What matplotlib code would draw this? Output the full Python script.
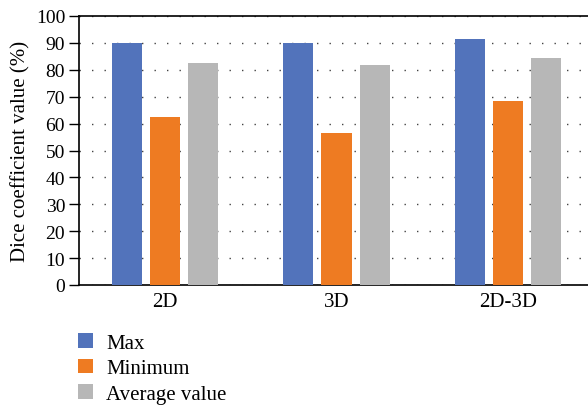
import matplotlib.pyplot as plt
import numpy as np

# data
groups = ['2D', '3D', '2D-3D']
max_vals = [90.0, 90.0, 91.5]
min_vals = [62.5, 56.4, 68.3]
avg_vals = [82.5, 81.8, 84.3]
series_names = ['Max', 'Minimum', 'Average value']
colors = ['#5273bb', '#ee7b22', '#b7b7b7']

plt.rcParams['font.family'] = ['Liberation Serif', 'DejaVu Serif']

fig = plt.figure(figsize=(5.88, 4.06), dpi=100)
# axes run past the right edge like the reference crop
ax = fig.add_axes([79/588, 1 - 286/406, (594 - 79)/588, (286 - 17)/406])

x = np.arange(len(groups))
w = 0.175
step = 0.2216
for i, (vals, name) in enumerate(zip([max_vals, min_vals, avg_vals], series_names)):
    ax.bar(x + (i - 1)*step, vals, w, color=colors[i], label=name, zorder=3)

ax.set_xlim(-0.5, 2.5)
ax.set_ylim(0, 100)
ax.set_yticks(np.arange(0, 101, 10))
ax.set_xticks(x)
ax.set_xticklabels(groups, fontsize=15)
ax.tick_params(axis='x', length=0, pad=5)
ax.tick_params(axis='y', length=7, width=1, pad=3, labelsize=14)
ax.yaxis.grid(True, linestyle=(0, (1, 8)), color='#444444', linewidth=1, zorder=0)
for s in ['left', 'bottom', 'top']:
    ax.spines[s].set_linewidth(1.2)
ax.spines['right'].set_visible(False)
ax.set_ylabel('Dice coefficient value (%)', fontsize=15, labelpad=4)

fig.legend(loc='upper left', bbox_to_anchor=(78/588, 1 - 334/406), frameon=False,
           handlelength=0.72, handleheight=0.72, handletextpad=0.62, labelspacing=0.28,
           borderpad=0, borderaxespad=0, fontsize=15)

fig.savefig('out.png', dpi=100)
